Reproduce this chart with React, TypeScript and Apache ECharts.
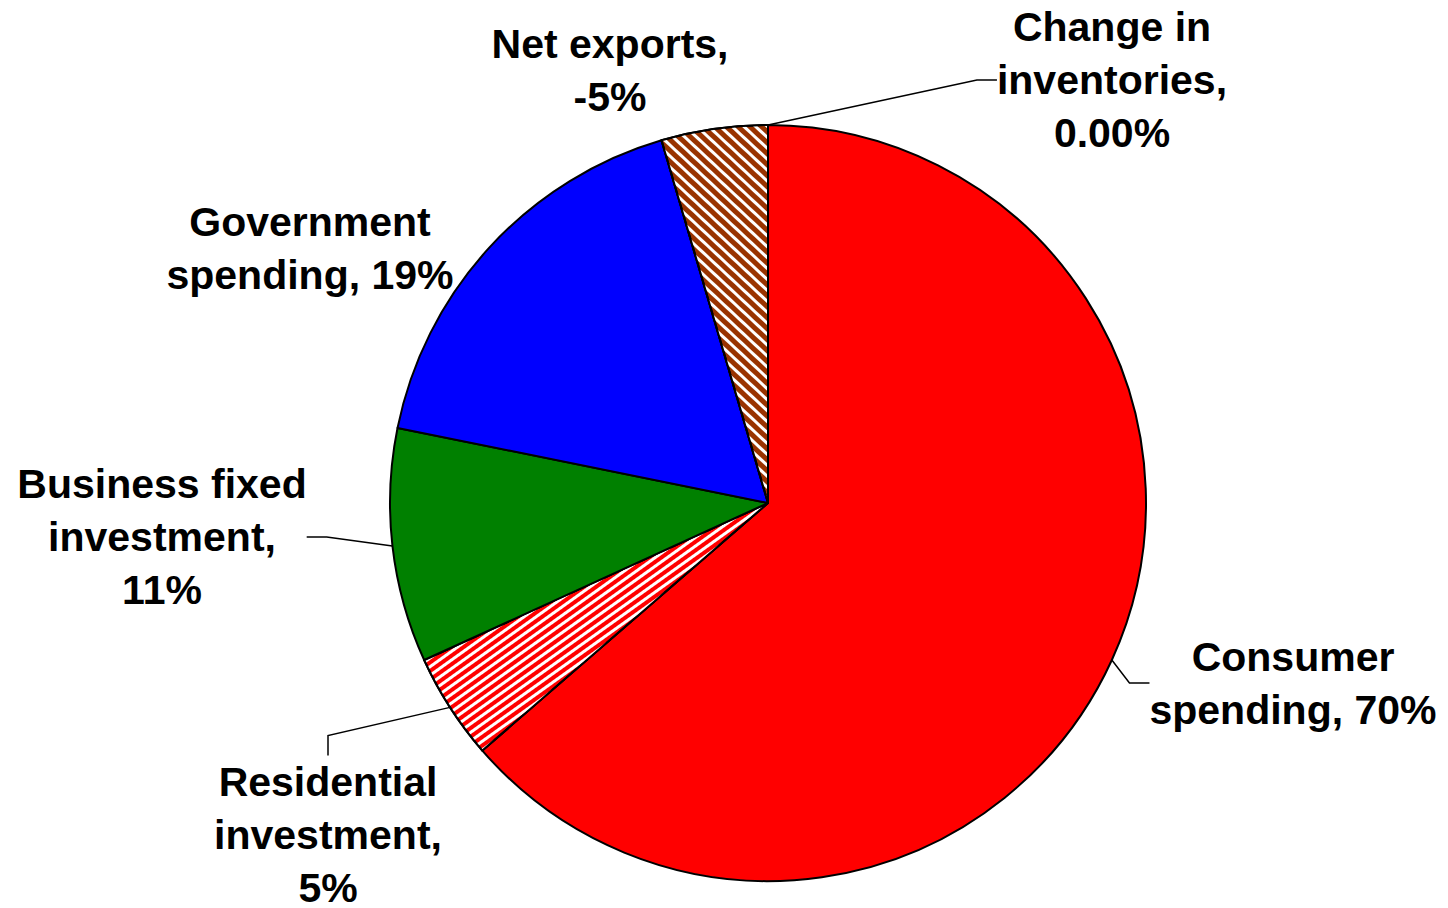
import React, { useEffect, useRef } from 'react';
import * as echarts from 'echarts';

const categories = [
  'Consumer spending',
  'Residential investment',
  'Business fixed investment',
  'Government spending',
  'Net exports',
  'Change in inventories',
];
// shares of GDP in percent (net exports negative)
const shares = [70, 5, 11, 19, -5, 0];
const labelTexts = [
  'Consumer\nspending, 70%',
  'Residential\ninvestment,\n5%',
  'Business fixed\ninvestment,\n11%',
  'Government\nspending, 19%',
  'Net exports,\n-5%',
  'Change in\ninventories,\n0.00%',
];
const colors = ['#FF0000', '#FF0000', '#008000', '#0000FF', '#993300', '#FFFFFF'];
const showLines = [true, true, true, false, false, true];

// label block centres (layout only)
const labelCenters: [number, number][] = [
  [1293, 683],
  [328, 835],
  [162, 537],
  [310, 248],
  [610, 70],
  [1112, 80],
];

export default function App() {
  const ref = useRef<HTMLDivElement>(null);
  useEffect(() => {
    document.body.style.margin = '0';
    const chart = echarts.init(ref.current!, undefined, { renderer: 'svg' });
    const data = categories.map((name, i) => {
      const item: any = {
        name,
        value: Math.abs(shares[i]),
        itemStyle: { color: colors[i] },
        labelLine: { show: showLines[i] },
      };
      if (i === 1) {
        item.itemStyle.decal = {
          symbol: 'rect',
          symbolSize: 1,
          color: '#FFFFFF',
          dashArrayX: [1, 0],
          dashArrayY: [3, 4],
          rotation: -0.62,
        };
      }
      if (i === 4) {
        item.itemStyle.decal = {
          symbol: 'rect',
          symbolSize: 1,
          color: '#FFFFFF',
          dashArrayX: [1, 0],
          dashArrayY: [2.5, 5],
          rotation: 0.75,
        };
      }
      return item;
    });
    chart.setOption({
      animation: false,
      backgroundColor: '#FFFFFF',
      series: [
        {
          type: 'pie',
          center: [768, 503],
          radius: 378,
          startAngle: 90,
          clockwise: true,
          avoidLabelOverlap: false,
          minShowLabelAngle: 0,
          itemStyle: { borderColor: '#000000', borderWidth: 2 },
          emphasis: { disabled: true },
          label: {
            show: true,
            position: 'outside',
            formatter: (p: any) => labelTexts[p.dataIndex],
            color: '#000000',
            fontFamily: '"Liberation Sans", Arial, sans-serif',
            fontWeight: 'bold',
            fontSize: 41,
            lineHeight: 53,
            align: 'center',
          },
          labelLine: {
            show: true,
            length: 20,
            length2: 20,
            lineStyle: { color: '#000000', width: 1.5 },
          },
          labelLayout: (params: any) => {
            const c = labelCenters[params.dataIndex];
            return { x: c[0], y: c[1], align: 'center', verticalAlign: 'middle' };
          },
          data,
        },
      ],
    });
    return () => chart.dispose();
  }, []);
  return <div ref={ref} style={{ width: 1448, height: 908 }} />;
}
